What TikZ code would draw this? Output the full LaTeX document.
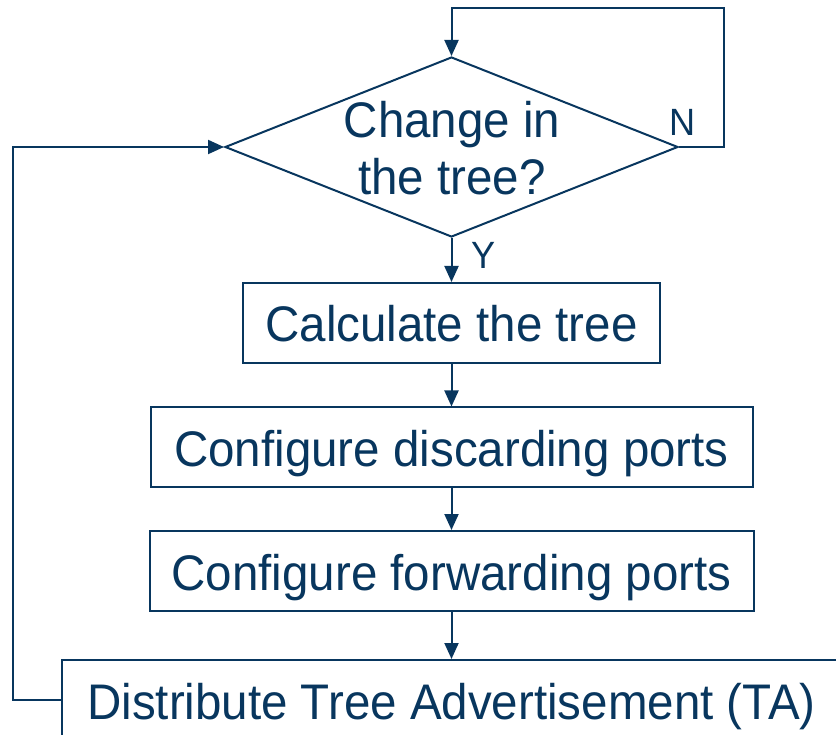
\documentclass[tikz,border=0pt]{standalone}
\usepackage{fontspec}
\setmainfont{Liberation Sans}[FakeStretch=0.95]
\usetikzlibrary{shapes.geometric,arrows.meta}
\definecolor{navy}{RGB}{8,54,94}
\tikzset{
  stepbox/.style={draw=navy, line width=2pt, inner sep=0pt, text=navy,
    text height=38pt, text depth=0pt,
    font=\fontsize{50}{57}\selectfont},
  dectxt/.style={text=navy, inner sep=0pt, anchor=base,
    font=\fontsize{50}{57}\selectfont},
  arr/.style={draw=navy, line width=2pt, -{Triangle[length=16pt,width=14pt]}},
  lbl/.style={text=navy, inner sep=0pt, font=\fontsize{38}{40}\selectfont},
}
\begin{document}
\begin{tikzpicture}[x=1pt,y=-1pt]
\useasboundingbox (0,0) rectangle (836,735);
\clip (0,0) rectangle (836,735);
\node[diamond, draw=navy, line width=2pt, inner sep=0pt, aspect=2.5,
  minimum width=453pt, minimum height=180pt] (dec) at (451.5,147) {};
\node[dectxt] (dectop) at (452,138) {Change in};
\node[dectxt] (decbot) at (452,195) {the tree?};
\node[stepbox, minimum width=417pt, minimum height=80pt] (calc) at (451.5,323) {Calculate the tree};
\node[stepbox, minimum width=602pt, minimum height=79pt] (disc) at (451.5,447) {Configure discarding ports};
\node[stepbox, minimum width=604pt, minimum height=80pt] (fwd) at (451.5,571) {Configure forwarding ports};
\node[stepbox, minimum width=780pt, minimum height=80pt] (dist) at (451.5,700) {Distribute Tree Advertisement (TA)};
\node[lbl] (nlab) at (683,122) {N};
\node[lbl] (ylab) at (484,255) {Y};
\coordinate (loopR) at (724,8);
\coordinate (loopL) at (13,400);
\draw[arr] (dec.east) -| (loopR) -| (dec.north);
\draw[arr] (dist.west) -| (loopL) |- (dec.west);
\draw[arr] (dec.south) -- (calc.north);
\draw[arr] (calc.south) -- (disc.north);
\draw[arr] (disc.south) -- (fwd.north);
\draw[arr] (fwd.south) -- (dist.north);
\end{tikzpicture}
\end{document}
